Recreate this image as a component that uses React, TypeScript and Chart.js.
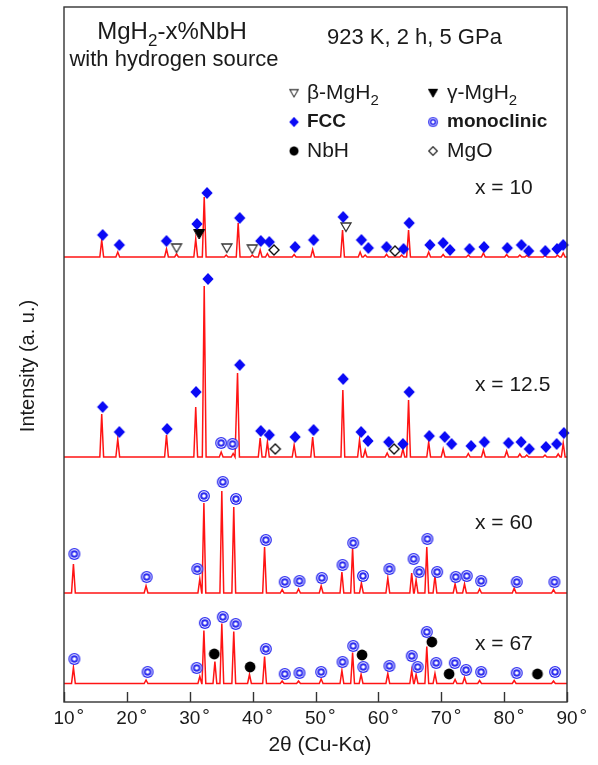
import React, { useEffect, useRef } from 'react';
import { Chart, registerables } from 'chart.js';
Chart.register(...registerables);

const FONT = '"Liberation Sans", Arial, Helvetica, sans-serif';
const BLUE = 'rgb(10,10,245)';
const MONO_BLUE = 'rgb(45,45,240)';
const TEXT = '#1a1a1a';

// axis
const X_MIN = 10;
const X_MAX = 90;
const X_TICKS = [10, 20, 30, 40, 50, 60, 70, 80, 90];
const Y_MAX = 695;

// baselines (intensity offsets of the stacked patterns)
const BASE_10 = 445;
const BASE_125 = 245;
const BASE_60 = 109;
const BASE_67 = 18.5;

// peaks: [2θ, height above baseline]
const PEAKS_10: [number, number][] = [
  [16.0, 17], [18.55, 5], [26.3, 8], [27.9, 3], [30.95, 18], [32.3, 60], [35.8, 2], [37.7, 34],
  [39.95, 2], [41.2, 7], [42.35, 3.5], [46.6, 2.5], [49.55, 7.5], [54.3, 27], [57.1, 5], [57.9, 2],
  [61.3, 2.7], [63.7, 2], [64.8, 27], [68.0, 5], [70.3, 2.5], [74.3, 2], [76.7, 4], [80.4, 2.5],
  [82.5, 2], [83.6, 1.5], [86.5, 1.5], [88.5, 2], [89.4, 4],
];
const PEAKS_125: [number, number][] = [
  [16.0, 43], [18.55, 18], [26.3, 22], [30.95, 50], [32.3, 171], [35.0, 5], [36.9, 3.5], [37.6, 84],
  [41.2, 19], [42.35, 15], [46.6, 12], [49.55, 20], [54.35, 67], [57.0, 17], [57.9, 7], [61.4, 4],
  [63.9, 8], [64.8, 57], [68.0, 15], [70.3, 8], [74.3, 3.5], [76.7, 7], [80.4, 6], [82.5, 3],
  [83.6, 2], [86.5, 2], [88.6, 3], [89.4, 14],
];
const PEAKS_60: [number, number][] = [
  [11.5, 29], [23.05, 7], [31.6, 14], [32.25, 90], [35.1, 102], [37.0, 86], [41.9, 46], [44.7, 3.5],
  [47.3, 4], [50.9, 7], [54.2, 21], [55.9, 45], [57.3, 10], [61.5, 15], [65.3, 20], [66.0, 13],
  [67.7, 46], [69.0, 17], [72.2, 9], [73.7, 9], [76.1, 4], [81.6, 5], [87.85, 3.5],
];
const PEAKS_67: [number, number][] = [
  [11.5, 16], [23.05, 3.5], [31.6, 7], [32.25, 53], [34.0, 22], [35.1, 60], [37.0, 52], [39.5, 9],
  [41.9, 27], [44.7, 2.5], [47.3, 2.5], [50.9, 4.5], [54.2, 13], [55.9, 31], [57.25, 9], [61.5, 10],
  [65.3, 13], [66.0, 9], [67.7, 37], [69.0, 10], [72.2, 4], [73.7, 6], [76.1, 3], [81.6, 3], [87.85, 2.5],
];

// phase markers: [2θ, intensity]
const FCC_10: [number, number][] = [
  [16.15, 467], [18.8, 457], [26.3, 461], [31.15, 478], [32.75, 509], [37.95, 484], [41.3, 461],
  [42.65, 460], [46.75, 455], [49.7, 462], [54.4, 485], [57.3, 462], [58.4, 454], [61.3, 455],
  [64.0, 453], [64.9, 479], [68.2, 457], [70.3, 459], [71.4, 452], [74.5, 453], [76.8, 455],
  [80.5, 454], [82.75, 457], [83.9, 451], [86.55, 451], [88.4, 453], [89.4, 457],
];
const BETA_10: [number, number][] = [[27.9, 454], [35.9, 454], [39.95, 453], [54.85, 475]];
const GAMMA_10: [number, number][] = [[31.5, 468]];
const MGO_10: [number, number][] = [[43.4, 452], [62.65, 451]];

const FCC_125: [number, number][] = [
  [16.15, 295], [18.8, 270], [26.4, 273], [31.0, 310], [32.9, 423], [37.95, 337], [41.3, 271],
  [42.65, 267], [46.75, 265], [49.7, 272], [54.4, 323], [57.25, 270], [58.35, 261], [61.65, 260],
  [63.9, 258], [64.9, 310], [68.1, 266], [70.55, 265], [71.65, 258], [74.75, 256], [76.85, 260],
  [80.7, 259], [82.7, 260], [84.0, 253], [86.65, 255], [88.35, 258], [89.5, 269],
];
const MONO_125: [number, number][] = [[35.0, 259], [36.8, 258]];
const MGO_125: [number, number][] = [[43.6, 253], [62.5, 253]];

const MONO_60: [number, number][] = [
  [11.65, 148], [23.15, 125], [31.2, 133], [32.25, 206], [35.25, 220], [37.35, 203], [42.1, 162],
  [45.1, 120], [47.45, 121], [51.0, 124], [54.3, 137], [56.0, 159], [57.55, 126], [61.75, 133],
  [65.6, 143], [66.5, 130], [67.8, 163], [69.35, 130], [72.3, 125], [74.05, 126], [76.35, 121],
  [82.0, 120], [88.0, 120],
];
const MONO_67: [number, number][] = [
  [11.65, 43], [23.3, 30], [31.1, 34], [32.4, 79], [35.25, 85], [37.3, 78], [42.1, 53], [45.1, 28],
  [47.45, 29], [50.9, 30], [54.3, 40], [56.0, 56], [57.6, 35], [61.75, 36], [65.3, 46], [66.25, 35],
  [67.7, 70], [69.2, 39], [72.15, 39], [73.95, 32], [76.35, 30], [82.0, 29], [88.1, 30],
];
const NBH_67: [number, number][] = [[33.9, 48], [39.6, 35], [57.4, 47], [68.5, 60], [71.25, 28], [85.3, 28]];

const PATTERN_LABELS = ['x = 10', 'x = 12.5', 'x = 60', 'x = 67'];
const PATTERN_LABEL_Y = [514, 317, 179, 58];

const HALF_WIDTH = 0.3;

function profile(base: number, peaks: [number, number][]) {
  const pts: { x: number; y: number }[] = [{ x: X_MIN, y: base }];
  const sorted = [...peaks].sort((a, b) => a[0] - b[0]);
  for (const [p, h] of sorted) {
    pts.push({ x: p - HALF_WIDTH, y: base }, { x: p, y: base + h }, { x: p + HALF_WIDTH, y: base });
  }
  pts.push({ x: X_MAX, y: base });
  return pts;
}

const toPts = (...lists: [number, number][][]) =>
  lists.flat().map(([x, y]) => ({ x, y }));

function mk(w: number, h: number, draw: (g: CanvasRenderingContext2D, cx: number, cy: number) => void) {
  const c = document.createElement('canvas');
  c.width = w;
  c.height = h;
  const g = c.getContext('2d')!;
  draw(g, w / 2, h / 2);
  return c;
}

function makeMarkers() {
  const fcc = mk(14, 14, (g, cx, cy) => {
    g.fillStyle = BLUE;
    g.beginPath();
    g.moveTo(cx, cy - 6);
    g.lineTo(cx + 5.6, cy);
    g.lineTo(cx, cy + 6);
    g.lineTo(cx - 5.6, cy);
    g.closePath();
    g.fill();
  });
  const mgo = mk(14, 14, (g, cx, cy) => {
    g.fillStyle = '#fff';
    g.strokeStyle = '#111';
    g.lineWidth = 1.4;
    g.beginPath();
    g.moveTo(cx, cy - 5);
    g.lineTo(cx + 5, cy);
    g.lineTo(cx, cy + 5);
    g.lineTo(cx - 5, cy);
    g.closePath();
    g.fill();
    g.stroke();
  });
  const beta = mk(14, 12, (g, cx, cy) => {
    g.fillStyle = '#fff';
    g.strokeStyle = '#333';
    g.lineWidth = 1.3;
    g.beginPath();
    g.moveTo(cx - 5, cy - 4);
    g.lineTo(cx + 5, cy - 4);
    g.lineTo(cx, cy + 4.5);
    g.closePath();
    g.fill();
    g.stroke();
  });
  const gamma = mk(14, 12, (g, cx, cy) => {
    g.fillStyle = '#000';
    g.strokeStyle = '#000';
    g.lineWidth = 1;
    g.beginPath();
    g.moveTo(cx - 5.5, cy - 4.5);
    g.lineTo(cx + 5.5, cy - 4.5);
    g.lineTo(cx, cy + 5);
    g.closePath();
    g.fill();
    g.stroke();
  });
  const nbh = mk(14, 14, (g, cx, cy) => {
    g.fillStyle = '#000';
    g.beginPath();
    g.arc(cx, cy, 5.4, 0, Math.PI * 2);
    g.fill();
  });
  const mono = mk(14, 14, (g, cx, cy) => {
    const ring = (r: number, c: string) => {
      g.fillStyle = c;
      g.beginPath();
      g.arc(cx, cy, r, 0, Math.PI * 2);
      g.fill();
    };
    ring(6, MONO_BLUE);
    ring(4.7, '#fff');
    ring(3.8, MONO_BLUE);
    ring(1.8, '#fff');
  });
  return { fcc, mgo, beta, gamma, nbh, mono };
}

type Part = { t: string; sub?: boolean; bold?: boolean };

function rich(
  ctx: CanvasRenderingContext2D,
  parts: Part[],
  x: number,
  y: number,
  size: number,
  align: 'left' | 'center',
) {
  const fontOf = (p: Part) => `${p.bold ? 'bold ' : ''}${p.sub ? Math.round(size * 0.72) : size}px ${FONT}`;
  let total = 0;
  for (const p of parts) {
    ctx.font = fontOf(p);
    total += ctx.measureText(p.t).width;
  }
  let cx = align === 'center' ? x - total / 2 : x;
  ctx.textAlign = 'left';
  ctx.textBaseline = 'middle';
  for (const p of parts) {
    ctx.font = fontOf(p);
    ctx.fillText(p.t, cx, y + (p.sub ? size * 0.38 : 0));
    cx += ctx.measureText(p.t).width;
  }
}

export default function App() {
  const ref = useRef<HTMLCanvasElement | null>(null);

  useEffect(() => {
    if (!ref.current) return;
    const m = makeMarkers();

    const decor = {
      id: 'decor',
      afterDatasetsDraw(chart: any) {
        const { ctx, chartArea: a, scales } = chart;
        const xs = scales.x;
        ctx.save();
        // frame
        ctx.strokeStyle = '#333';
        ctx.lineWidth = 1.4;
        ctx.strokeRect(a.left, a.top, a.right - a.left, a.bottom - a.top);
        // ticks
        ctx.beginPath();
        for (const t of X_TICKS) {
          const px = Math.round(xs.getPixelForValue(t)) + 0.5;
          ctx.moveTo(px, a.bottom);
          ctx.lineTo(px, a.bottom - 10);
        }
        ctx.stroke();
        // tick labels
        ctx.fillStyle = TEXT;
        ctx.textBaseline = 'middle';
        for (const t of X_TICKS) {
          const px = xs.getPixelForValue(t);
          ctx.font = `19px ${FONT}`;
          const s = String(t);
          const w = ctx.measureText(s).width;
          ctx.textAlign = 'center';
          ctx.fillText(s, px, a.bottom + 17);
          ctx.textAlign = 'left';
          ctx.fillText('°', px + w / 2 + 2, a.bottom + 15);
        }
        // axis titles
        ctx.font = `21px ${FONT}`;
        ctx.textAlign = 'center';
        ctx.fillText('2θ (Cu-Kα)', 320, 745);
        ctx.save();
        ctx.translate(28, 366);
        ctx.rotate(-Math.PI / 2);
        ctx.font = `20px ${FONT}`;
        ctx.fillText('Intensity (a. u.)', 0, 0);
        ctx.restore();

        // header texts
        ctx.fillStyle = TEXT;
        rich(ctx, [{ t: 'MgH' }, { t: '2', sub: true }, { t: '-x%NbH' }], 172, 32, 24, 'center');
        rich(ctx, [{ t: 'with hydrogen source' }], 174, 60, 22, 'center');
        rich(ctx, [{ t: '923 K, 2 h, 5 GPa' }], 327, 38, 22, 'left');

        // legend
        const L1 = 294, L2 = 433, T1 = 307, T2 = 447;
        const R = [93, 122, 151];
        const drawM = (img: HTMLCanvasElement, x: number, y: number, s = 0.85) => {
          ctx.drawImage(img, x - (img.width * s) / 2, y - (img.height * s) / 2, img.width * s, img.height * s);
        };
        drawM(m.beta, L1, R[0]);
        rich(ctx, [{ t: 'β-MgH' }, { t: '2', sub: true }], T1, R[0], 21, 'left');
        drawM(m.gamma, L2, R[0]);
        rich(ctx, [{ t: 'γ-MgH' }, { t: '2', sub: true }], T2, R[0], 21, 'left');
        drawM(m.fcc, L1, R[1]);
        rich(ctx, [{ t: 'FCC', bold: true }], T1, R[1], 19, 'left');
        drawM(m.mono, L2, R[1]);
        rich(ctx, [{ t: 'monoclinic', bold: true }], T2, R[1], 19, 'left');
        drawM(m.nbh, L1, R[2]);
        rich(ctx, [{ t: 'NbH' }], T1, R[2], 21, 'left');
        drawM(m.mgo, L2, R[2]);
        rich(ctx, [{ t: 'MgO' }], T2, R[2], 21, 'left');

        // pattern labels
        const ys = scales.y;
        PATTERN_LABELS.forEach((lab, i) => {
          rich(ctx, [{ t: lab }], 475, ys.getPixelForValue(PATTERN_LABEL_Y[i]), 21, 'left');
        });
        ctx.restore();
      },
    };

    const line = (data: { x: number; y: number }[]) => ({
      type: 'scatter' as const,
      data,
      showLine: true,
      borderColor: 'rgb(255,20,20)',
      borderWidth: 1.5,
      pointRadius: 0,
      fill: false,
      tension: 0,
      order: 2,
    });
    const marks = (data: { x: number; y: number }[], style: HTMLCanvasElement) => ({
      type: 'scatter' as const,
      data,
      showLine: false,
      pointStyle: style,
      pointRadius: 6,
      clip: false as any,
      order: 1,
    });

    const chart = new Chart(ref.current, {
      type: 'scatter',
      data: {
        datasets: [
          line(profile(BASE_10, PEAKS_10)),
          line(profile(BASE_125, PEAKS_125)),
          line(profile(BASE_60, PEAKS_60)),
          line(profile(BASE_67, PEAKS_67)),
          marks(toPts(FCC_10, FCC_125), m.fcc),
          marks(toPts(BETA_10), m.beta),
          marks(toPts(GAMMA_10), m.gamma),
          marks(toPts(MGO_10, MGO_125), m.mgo),
          marks(toPts(MONO_125, MONO_60, MONO_67), m.mono),
          marks(toPts(NBH_67), m.nbh),
        ] as any,
      },
      options: {
        animation: false,
        responsive: false,
        devicePixelRatio: 1,
        layout: { autoPadding: false, padding: { left: 64, top: 7, right: 31, bottom: 63 } },
        plugins: { legend: { display: false }, tooltip: { enabled: false }, title: { display: false } },
        events: [],
        scales: {
          x: { type: 'linear', min: X_MIN, max: X_MAX, display: false },
          y: { type: 'linear', min: 0, max: Y_MAX, display: false },
        },
      },
      plugins: [decor],
    });
    return () => chart.destroy();
  }, []);

  return (
    <div style={{ position: 'absolute', left: 0, top: 0, width: 598, height: 765, background: '#fff' }}>
      <canvas ref={ref} width={598} height={765} style={{ display: 'block', width: 598, height: 765 }} />
    </div>
  );
}
